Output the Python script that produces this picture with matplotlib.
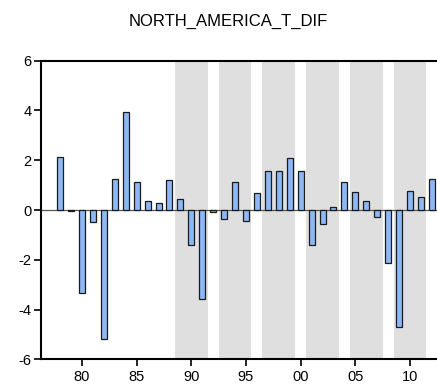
import matplotlib
matplotlib.use("Agg")
import matplotlib.pyplot as plt
import numpy as np

plt.rcParams['font.family'] = ['Liberation Sans', 'DejaVu Sans']
plt.rcParams['axes.unicode_minus'] = False

title = "NORTH_AMERICA_T_DIF"
years = list(range(1978, 2013))
values = [2.12, -0.05, -3.35, -0.48, -5.19, 1.25, 3.95, 1.11, 0.37, 0.27,
          1.22, 0.44, -1.41, -3.57, -0.10, -0.37, 1.14, -0.46, 0.67, 1.55,
          1.55, 2.07, 1.55, -1.39, -0.55, 0.13, 1.14, 0.71, 0.37, -0.29,
          -2.13, -4.70, 0.75, 0.52, 1.23]
shade_spans = [(1988.5, 1991.5), (1992.5, 1995.5), (1996.5, 1999.5),
               (2000.5, 2003.5), (2004.5, 2007.5), (2008.5, 2011.5)]
xtick_years = [1980, 1985, 1990, 1995, 2000, 2005, 2010]
xtick_labels = ["80", "85", "90", "95", "00", "05", "10"]
yticks = [-6, -4, -2, 0, 2, 4, 6]

fig = plt.figure(figsize=(4.37, 3.89), dpi=100)
ax = fig.add_axes([41/437, 1 - 359.3/389, 1 - 41/437 + 0.002, (359.3 - 60.7)/389])

for a, b in shade_spans:
    ax.axvspan(a, b, color="#dfdfdf", lw=0, zorder=0)

ax.axhline(0, color="#555555", lw=0.9, zorder=1)
ax.bar(years, values, width=0.55, color="#8db8f5", edgecolor="#1a1a1a",
       linewidth=0.9, zorder=2)

ax.set_xlim(1976.25, 2012.55)
ax.set_ylim(-6, 6)
ax.set_xticks(xtick_years)
ax.set_xticklabels(xtick_labels)
ax.set_yticks(yticks)
ax.tick_params(axis="both", direction="out", length=5, width=1.2,
               labelsize=10.5, color="black")
ax.tick_params(axis="x", pad=3)
ax.tick_params(axis="y", pad=2)
for s in ["left", "bottom", "top"]:
    ax.spines[s].set_linewidth(1.5)
ax.spines["right"].set_visible(False)

fig.text(228/437, 1 - 21/389, title, ha="center", va="center", fontsize=12)

fig.savefig("out.png", dpi=100)
